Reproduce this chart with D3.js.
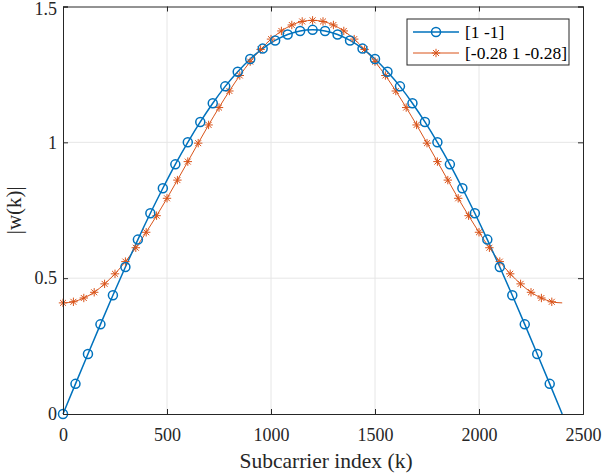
<!DOCTYPE html>
<html>
<head>
<meta charset="utf-8">
<script src="https://cdn.jsdelivr.net/npm/d3@7"></script>
<style>
    body { margin: 0; background: #fff; }
    svg { display: block; }
</style>
</head>
<body>
<div id="chart"></div>
<script>
    "use strict";
    // [1 -1] : samples every 60 subcarriers, 0..2400
    var blueK = [0, 60, 120, 180, 240, 300, 360, 420, 480, 540, 600, 660, 720, 780, 840, 900, 960, 1020, 1080, 1140,
        1200, 1260, 1320, 1380, 1440, 1500, 1560, 1620, 1680, 1740, 1800, 1860, 1920, 1980, 2040, 2100, 2160, 2220,
        2280, 2340, 2400];
    var blueVals = [0, 0.111, 0.221, 0.330, 0.437, 0.541, 0.642, 0.739, 0.831, 0.919, 1.000, 1.075, 1.144, 1.206,
        1.260, 1.307, 1.345, 1.375, 1.397, 1.410, 1.414, 1.410, 1.397, 1.375, 1.345, 1.307, 1.260, 1.206, 1.144,
        1.075, 1.000, 0.919, 0.831, 0.739, 0.642, 0.541, 0.437, 0.330, 0.221, 0.111, 0];
    // [-0.28 1 -0.28] : samples every 50 subcarriers, 0..2400
    var orangeK = [0, 50, 100, 150, 200, 250, 300, 350, 400, 450, 500, 550, 600, 650, 700, 750, 800, 850, 900, 950,
        1000, 1050, 1100, 1150, 1200, 1250, 1300, 1350, 1400, 1450, 1500, 1550, 1600, 1650, 1700, 1750, 1800, 1850,
        1900, 1950, 2000, 2050, 2100, 2150, 2200, 2250, 2300, 2350, 2400];
    var orangeVals = [0.409, 0.413, 0.427, 0.448, 0.479, 0.516, 0.561, 0.612, 0.669, 0.730, 0.794, 0.861, 0.929,
        0.997, 1.064, 1.128, 1.189, 1.246, 1.297, 1.342, 1.380, 1.410, 1.432, 1.445, 1.449, 1.445, 1.432, 1.410,
        1.380, 1.342, 1.297, 1.246, 1.189, 1.128, 1.064, 0.997, 0.929, 0.861, 0.794, 0.730, 0.669, 0.612, 0.561,
        0.516, 0.479, 0.448, 0.427, 0.413, 0.409];
    var legendLabels = ["[1 -1]", "[-0.28 1 -0.28]"];
    var xTicks = [0, 500, 1000, 1500, 2000, 2500];
    var yTicks = [0, 0.5, 1, 1.5];

    var width = 603, height = 476;
    var margin = { left: 63, right: 20, top: 6.5, bottom: 62 };
    var blue = "#0072BD", orange = "#D95319", axisColor = "#262626";
    var serif = "'Liberation Serif', 'Times New Roman', Times, serif";

    var svg = d3.select("#chart").append("svg")
        .attr("width", width)
        .attr("height", height);

    var x = d3.scaleLinear().domain([0, 2500]).range([margin.left, width - margin.right]);
    var y = d3.scaleLinear().domain([0, 1.5]).range([height - margin.bottom, margin.top]);

    var plot = svg.append("g");

    // grid
    plot.append("g").selectAll("line").data(xTicks.slice(1, -1)).enter().append("line")
        .attr("x1", function (d) { return x(d); }).attr("x2", function (d) { return x(d); })
        .attr("y1", y(0)).attr("y2", y(1.5))
        .attr("stroke", "#e6e6e6").attr("stroke-width", 1);
    plot.append("g").selectAll("line").data(yTicks.slice(1, -1)).enter().append("line")
        .attr("x1", x(0)).attr("x2", x(2500))
        .attr("y1", function (d) { return y(d); }).attr("y2", function (d) { return y(d); })
        .attr("stroke", "#e6e6e6").attr("stroke-width", 1);

    function series(ks, vals) {
        return ks.map(function (k, i) { return { k: k, v: vals[i] }; });
    }
    var blueData = series(blueK, blueVals);
    var orangeData = series(orangeK, orangeVals);

    var line = d3.line()
        .x(function (d) { return x(d.k); })
        .y(function (d) { return y(d.v); })
        .curve(d3.curveNatural);

    plot.append("path").datum(orangeData)
        .attr("d", line).attr("fill", "none")
        .attr("stroke", orange).attr("stroke-width", 1);
    plot.append("path").datum(blueData)
        .attr("d", line).attr("fill", "none")
        .attr("stroke", blue).attr("stroke-width", 1.5);

    function drawStar(g, cx, cy, r) {
        var p = "";
        [0, 45, 90, 135].forEach(function (a) {
            var rad = a * Math.PI / 180;
            var dx = r * Math.cos(rad), dy = r * Math.sin(rad);
            p += "M" + (cx - dx) + "," + (cy - dy) + "L" + (cx + dx) + "," + (cy + dy);
        });
        g.append("path").attr("d", p).attr("stroke", orange).attr("stroke-width", 1).attr("fill", "none");
    }

    // markers (last sample at 2400 has no marker)
    var starG = plot.append("g");
    orangeData.slice(0, -1).forEach(function (d) { drawStar(starG, x(d.k), y(d.v), 4.2); });
    plot.append("g").selectAll("circle").data(blueData.slice(0, -1)).enter().append("circle")
        .attr("cx", function (d) { return x(d.k); })
        .attr("cy", function (d) { return y(d.v); })
        .attr("r", 4.5)
        .attr("fill", "none").attr("stroke", blue).attr("stroke-width", 1.5);

    // axes box
    var xAxis = d3.axisBottom(x).tickValues(xTicks).tickSize(-5).tickPadding(14)
        .tickFormat(d3.format("d"));
    var xAxisTop = d3.axisTop(x).tickValues(xTicks).tickSize(-5).tickFormat("");
    var yAxis = d3.axisLeft(y).tickValues(yTicks).tickSize(-5).tickPadding(6)
        .tickFormat(function (d) { return String(d); });
    var yAxisRight = d3.axisRight(y).tickValues(yTicks).tickSize(-5).tickFormat("");

    function style(g) {
        g.attr("font-family", null).attr("font-size", null);
        g.select(".domain").attr("stroke", axisColor).attr("stroke-width", 1);
        g.selectAll(".tick line").attr("stroke", axisColor);
        g.selectAll(".tick text").style("font-size", "18px").style("font-family", serif)
            .attr("fill", axisColor);
    }
    svg.append("g").attr("transform", "translate(0," + y(0) + ")").call(xAxis).call(style);
    svg.append("g").attr("transform", "translate(0," + y(1.5) + ")").call(xAxisTop).call(style);
    svg.append("g").attr("transform", "translate(" + x(0) + ",0)").call(yAxis).call(style);
    svg.append("g").attr("transform", "translate(" + x(2500) + ",0)").call(yAxisRight).call(style);
    // keep the top tick label inside the picture
    svg.selectAll(".tick text").filter(function (d) { return d === 1.5; }).attr("dy", "0.42em");

    svg.append("text")
        .attr("x", (x(0) + x(2500)) / 2 + 3).attr("y", 468)
        .attr("text-anchor", "middle")
        .style("font-family", serif).style("font-size", "21.5px").attr("fill", axisColor)
        .text("Subcarrier index (k)");
    svg.append("text")
        .attr("transform", "translate(21," + (y(0) + y(1.5)) / 2 + ") rotate(-90)")
        .attr("text-anchor", "middle")
        .style("font-family", serif).style("font-size", "21px").attr("fill", axisColor)
        .text("|w(k)|");

    // legend
    var lg = svg.append("g").attr("transform", "translate(407,19)");
    lg.append("rect").attr("width", 162).attr("height", 46)
        .attr("fill", "#fff").attr("stroke", axisColor).attr("stroke-width", 1);
    var rows = lg.selectAll("g.row").data(legendLabels).enter().append("g")
        .attr("transform", function (d, i) { return "translate(0," + (13 + i * 21) + ")"; });
    rows.append("line").attr("x1", 6).attr("x2", 52).attr("y1", 0).attr("y2", 0)
        .attr("stroke", function (d, i) { return i === 0 ? blue : orange; })
        .attr("stroke-width", function (d, i) { return i === 0 ? 1.5 : 1; });
    rows.filter(function (d, i) { return i === 0; }).append("circle")
        .attr("cx", 29).attr("cy", 0).attr("r", 4.5)
        .attr("fill", "none").attr("stroke", blue).attr("stroke-width", 1.5);
    rows.filter(function (d, i) { return i === 1; }).each(function () {
        drawStar(d3.select(this), 29, 0, 4.2);
    });
    rows.append("text").attr("x", 58).attr("y", 6)
        .style("font-family", serif).style("font-size", "17.5px").attr("fill", "#000")
        .text(function (d) { return d; });
</script>
</body>
</html>
